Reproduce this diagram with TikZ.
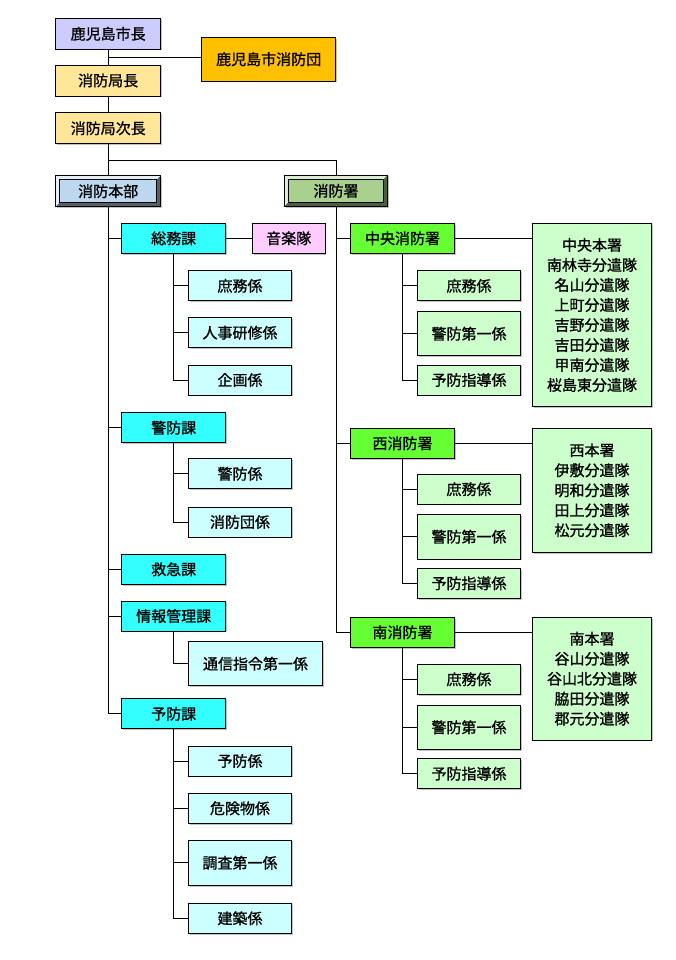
\documentclass[tikz,border=0pt]{standalone}
\usepackage{fontspec}
\setmainfont{Noto Sans CJK JP}[FakeBold=1.0]
\usepackage{tikz}
\usetikzlibrary{calc,
                shadows
                }

\definecolor{mayorcol}{HTML}{CCCCFF}
\definecolor{corpscol}{HTML}{FFC000}
\definecolor{chiefcol}{HTML}{FFE699}
\definecolor{hqcol}{HTML}{BDD7EE}
\definecolor{fscol}{HTML}{A9D08E}
\definecolor{kacol}{HTML}{33FFFF}
\definecolor{kakaricol}{HTML}{CCFFFF}
\definecolor{bandcol}{HTML}{FFCCFF}
\definecolor{stationcol}{HTML}{66FF33}
\definecolor{stkakaricol}{HTML}{CCFFCC}

\tikzset{
    box/.style={draw, line width=0.8pt, inner sep=0pt,
        font=\fontsize{15pt}{20pt}\selectfont,
        drop shadow={shadow xshift=1.2pt, shadow yshift=-1.2pt, fill=black!60, opacity=.4}},
    topbox/.style={box, fill=#1, minimum width=105pt, minimum height=31pt},
    bevelbox/.style={topbox=#1, path picture={
        \fill[white, opacity=.6] (path picture bounding box.south west)
            |- (path picture bounding box.north east) -- ++(-4pt,-4pt)
            -| ($(path picture bounding box.south west)+(4pt,4pt)$) -- cycle;
        \fill[black, opacity=.55] (path picture bounding box.south west)
            -| (path picture bounding box.north east) -- ++(-4pt,-4pt)
            |- ($(path picture bounding box.south west)+(4pt,4pt)$) -- cycle;
        \draw[line width=0.5pt] ($(path picture bounding box.south west)+(4pt,4pt)$)
            rectangle ($(path picture bounding box.north east)+(-4pt,-4pt)$);
        }},
    kabox/.style={box, fill=kacol, minimum width=104pt, minimum height=30pt},
    kakaribox/.style={box, fill=kakaricol, minimum width=103.4pt, minimum height=#1},
    kakaribox/.default=30pt,
    stationbox/.style={box, fill=stationcol, minimum width=104pt, minimum height=30pt},
    stkakaribox/.style={box, fill=stkakaricol, minimum width=103.4pt, minimum height=#1},
    stkakaribox/.default=30pt,
    listbox/.style={box, fill=stkakaricol, minimum width=119.4pt, minimum height=#1, align=center},
    every path/.style={line width=0.8pt}
}

\begin{document}
\begin{tikzpicture}[x=1pt, y=-1pt]
    \useasboundingbox (0,0) rectangle (675,960);

    \node[topbox=mayorcol] (mayor) at (108.2,33.8) {鹿児島市長};
    \node[box, fill=corpscol, minimum width=134pt, minimum height=43.7pt] (corps) at (268.7,59.2) {鹿児島市消防団};
    \node[topbox=chiefcol] (chief) at (108.2,80.5) {消防局長};
    \node[topbox=chiefcol] (deputy) at (108.2,128.3) {消防局次長};
    \node[bevelbox=hqcol] (hq) at (108.2,191.2) {消防本部};
    \node[bevelbox=fscol, minimum width=103pt] (fs) at (336,190.8) {消防署};

    \node[kabox] (soumu) at (173.7,238.3) {総務課};
    \node[box, fill=bandcol, minimum width=72.7pt, minimum height=30pt] (band) at (288.7,238.3) {音楽隊};
    \node[kakaribox] (soumu-shomu) at (240,285.8) {庶務係};
    \node[kakaribox] (soumu-jinji) at (240,332.7) {人事研修係};
    \node[kakaribox] (soumu-kikaku) at (240,380) {企画係};

    \node[kabox] (keibo) at (173.7,427.7) {警防課};
    \node[kakaribox] (keibo-keibo) at (240,473.8) {警防係};
    \node[kakaribox] (keibo-dan) at (240,522) {消防団係};

    \node[kabox] (kyukyu) at (173.7,569.3) {救急課};

    \node[kabox] (joho) at (173.7,616) {情報管理課};
    \node[box, fill=kakaricol, minimum width=134.4pt, minimum height=44pt] (joho-tsushin) at (255.5,663.7) {通信指令第一係};

    \node[kabox] (yobo) at (173.7,713.8) {予防課};
    \node[kakaribox] (yobo-yobo) at (240,761) {予防係};
    \node[kakaribox] (yobo-kiken) at (240,808.3) {危険物係};
    \node[kakaribox=45.7pt] (yobo-chosa) at (240,862.8) {調査第一係};
    \node[kakaribox] (yobo-kenchiku) at (240,918.3) {建築係};

    \node[stationbox] (chuo) at (402.5,238.3) {中央消防署};
    \node[stkakaribox] (chuo-shomu) at (469,285.8) {庶務係};
    \node[stkakaribox=44pt] (chuo-keibo) at (469,333.7) {警防第一係};
    \node[stkakaribox] (chuo-yobo) at (469,380) {予防指導係};
    \node[listbox=183.4pt] (chuo-list) at (592,315) {中央本署\\南林寺分遣隊\\名山分遣隊\\上町分遣隊\\吉野分遣隊\\吉田分遣隊\\甲南分遣隊\\桜島東分遣隊};

    \node[stationbox] (nishi) at (402.5,443.3) {西消防署};
    \node[stkakaribox] (nishi-shomu) at (469,489.2) {庶務係};
    \node[stkakaribox=44.7pt] (nishi-keibo) at (469,536.7) {警防第一係};
    \node[stkakaribox] (nishi-yobo) at (469,583.3) {予防指導係};
    \node[listbox=124pt] (nishi-list) at (592,490.3) {西本署\\伊敷分遣隊\\明和分遣隊\\田上分遣隊\\松元分遣隊};

    \node[stationbox] (minami) at (402.5,632.3) {南消防署};
    \node[stkakaribox] (minami-shomu) at (469,679.3) {庶務係};
    \node[stkakaribox=44pt] (minami-keibo) at (469,727.3) {警防第一係};
    \node[stkakaribox] (minami-yobo) at (469,773.7) {予防指導係};
    \node[listbox=122.7pt] (minami-list) at (592,678.7) {南本署\\谷山分遣隊\\谷山北分遣隊\\脇田分遣隊\\郡元分遣隊};

    \coordinate (split1) at ($(mayor.south)!.5!(chief.north)$);
    \coordinate (split2) at (108.2,160);

    \draw (mayor) -- (chief);
    \draw (split1) -- (split1 -| corps.west);
    \draw (chief) -- (deputy);
    \draw (deputy) -- (hq);
    \draw (split2) -| (fs);

    \foreach \n in {soumu,keibo,kyukyu,joho,yobo}
        \draw (hq.south) |- (\n.west);
    \draw (soumu) -- (band);
    \foreach \n in {shomu,jinji,kikaku}
        \draw (soumu.south) |- (soumu-\n.west);
    \foreach \n in {keibo,dan}
        \draw (keibo.south) |- (keibo-\n.west);
    \draw (joho.south) |- (joho-tsushin.west);
    \foreach \n in {yobo,kiken,chosa,kenchiku}
        \draw (yobo.south) |- (yobo-\n.west);

    \foreach \s in {chuo,nishi,minami} {
        \draw (fs.south) |- (\s.west);
        \foreach \n in {shomu,keibo,yobo}
            \draw (\s.south) |- (\s-\n.west);
        \draw (\s.east) -- (\s.east -| \s-list.west);
    }
\end{tikzpicture}
\end{document}
